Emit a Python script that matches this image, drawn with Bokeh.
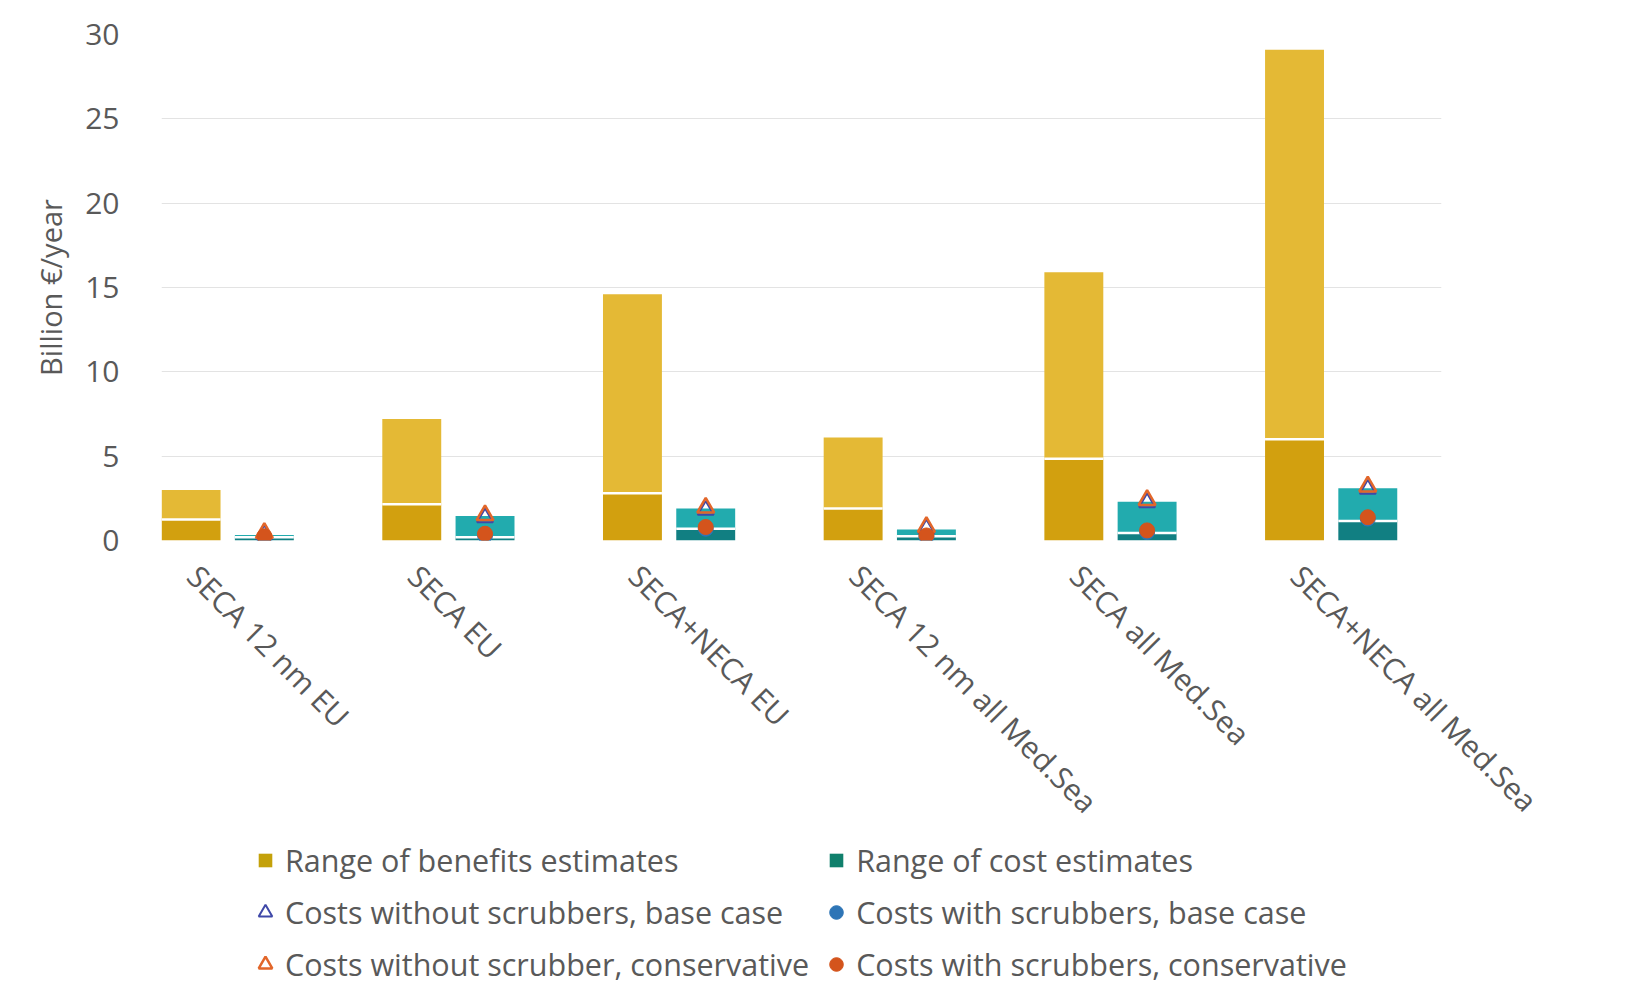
import numpy as np
from bokeh.plotting import figure
from bokeh.layouts import column
from bokeh.models import (ColumnDataSource, FixedTicker, Legend, LegendItem,
                          Range1d)
from bokeh.embed import file_html
from bokeh.resources import INLINE

# Scenarios along the x axis
categories = ["SECA 12 nm EU", "SECA EU", "SECA+NECA EU",
              "SECA 12 nm all Med.Sea", "SECA all Med.Sea",
              "SECA+NECA all Med.Sea"]

# Benefit range (billion EUR / year)
benefit_low = [1.25, 2.15, 2.8, 1.9, 4.85, 6.0]
benefit_high = [3.0, 7.2, 14.6, 6.1, 15.9, 29.1]

# Cost range (billion EUR / year)
cost_low = [0.2, 0.2, 0.7, 0.25, 0.45, 1.15]
cost_high = [0.32, 1.45, 1.9, 0.65, 2.3, 3.1]

# Point estimates of costs
cost_noscrub_base = [0.35, 1.35, 1.8, 0.7, 2.25, 3.05]
cost_scrub_base = [0.2, 0.3, 0.7, 0.22, 0.5, 1.3]
cost_noscrub_cons = [0.45, 1.5, 1.95, 0.8, 2.4, 3.2]
cost_scrub_cons = [0.25, 0.4, 0.8, 0.3, 0.6, 1.38]

yticks = [0, 5, 10, 15, 20, 25, 30]

legend_labels = ["Range of benefits estimates", "Range of cost estimates",
                 "Costs without scrubbers, base case",
                 "Costs with scrubbers, base case",
                 "Costs without scrubber, conservative",
                 "Costs with scrubbers, conservative"]

FONT = "Open Sans"
GREY = "#595959"
BAR_W = 0.267
OFFSET = 0.166
LABEL_SHIFT = 0.15625   # category labels hang from just left of the group centre

# Marker styles shared by the chart and its legend
STYLE_BEN = dict(marker="square", fill_color="#C4A10A", line_color=None)
STYLE_COST = dict(marker="square", fill_color="#10806C", line_color=None)
STYLE_NSB = dict(marker="triangle", fill_alpha=0,
                 line_color="#3F48A8", line_width=2)
STYLE_SB = dict(marker="circle", fill_color="#2E75B6", line_color="#2E75B6")
STYLE_NSC = dict(marker="triangle", fill_alpha=0, line_color="#E2662A",
                 line_width=2.5)
STYLE_SC = dict(marker="circle", fill_color="#D4541C", line_color="#D4541C")

x = np.arange(len(categories), dtype=float)
xb = x - OFFSET
xc = x + OFFSET

src = ColumnDataSource(dict(
    xb=xb, xc=xc,
    b_lo=benefit_low, b_hi=benefit_high,
    c_lo=cost_low, c_hi=cost_high,
    b_l0=xb - BAR_W / 2, b_l1=xb + BAR_W / 2,
    c_l0=xc - BAR_W / 2, c_l1=xc + BAR_W / 2,
    nsb=cost_noscrub_base, sb=cost_scrub_base,
    nsc=cost_noscrub_cons, sc=cost_scrub_cons,
))

p = figure(width=1626, height=839, output_backend="svg", toolbar_location=None,
           x_range=Range1d(-0.3, 5.5), y_range=Range1d(0, 30),
           min_border_left=161, min_border_right=185,
           min_border_top=34, min_border_bottom=290)
p.outline_line_color = None
p.background_fill_color = "white"
p.border_fill_color = "white"

# Benefit bars: lower part up to the low estimate, upper part to the high one
p.vbar(x="xb", bottom=0, top="b_lo", width=BAR_W, source=src,
       fill_color="#D2A00F", line_color=None)
p.vbar(x="xb", bottom="b_lo", top="b_hi", width=BAR_W, source=src,
       fill_color="#E4B935", line_color=None)
p.segment(x0="b_l0", x1="b_l1", y0="b_lo", y1="b_lo", source=src,
          line_color="white", line_width=2.5)

# Cost bars
p.vbar(x="xc", bottom=0, top="c_lo", width=BAR_W, source=src,
       fill_color="#117F82", line_color=None)
p.vbar(x="xc", bottom="c_lo", top="c_hi", width=BAR_W, source=src,
       fill_color="#22ABAE", line_color=None)
p.segment(x0="c_l0", x1="c_l1", y0="c_lo", y1="c_lo", source=src,
          line_color="white", line_width=2.5)

# Point estimates (conservative case drawn on top of the base case)
p.scatter(x="xc", y="nsb", source=src, size=16, **STYLE_NSB)
p.scatter(x="xc", y="sb", source=src, size=15, **STYLE_SB)
p.scatter(x="xc", y="nsc", source=src, size=17, **STYLE_NSC)
p.scatter(x="xc", y="sc", source=src, size=15, **STYLE_SC)

# Axes
p.yaxis.ticker = FixedTicker(ticks=yticks)
p.yaxis.axis_label = "Billion €/year"
p.yaxis.axis_label_text_font = FONT
p.yaxis.axis_label_text_font_size = "29px"
p.yaxis.axis_label_text_font_style = "normal"
p.yaxis.axis_label_text_color = GREY
p.yaxis.axis_label_standoff = 12
p.yaxis.major_label_text_font = FONT
p.yaxis.major_label_text_font_size = "30px"
p.yaxis.major_label_text_color = GREY
p.yaxis.major_label_standoff = 36
p.yaxis.axis_line_color = None
p.yaxis.major_tick_line_color = None
p.yaxis.minor_tick_line_color = None

label_ticks = list(x - LABEL_SHIFT)
p.xaxis.ticker = FixedTicker(ticks=label_ticks)
p.xaxis.major_label_overrides = {float(t): c for t, c in zip(label_ticks, categories)}
p.xaxis.major_label_orientation = -np.pi / 4
p.xaxis.major_label_text_font = FONT
p.xaxis.major_label_text_font_size = "30px"
p.xaxis.major_label_text_color = GREY
p.xaxis.major_label_standoff = 24
p.xaxis.axis_line_color = None
p.xaxis.major_tick_line_color = None
p.xaxis.minor_tick_line_color = None

p.xgrid.grid_line_color = None
p.ygrid.grid_line_color = "#E3E3E3"
p.ygrid.grid_line_width = 1.2

# Legend strip underneath the chart
lg = figure(width=1626, height=146, output_backend="svg", toolbar_location=None,
            x_range=Range1d(0, 1), y_range=Range1d(0, 1),
            min_border=0, x_axis_type=None, y_axis_type=None)
lg.outline_line_color = None
lg.grid.visible = False
lg.border_fill_color = "white"
lg.background_fill_color = "white"

# Swatch renderers carry no drawable point; they only lend their style to the legend
nan = [np.nan]
swatches = [lg.scatter(x=nan, y=nan, size=14, **s)
            for s in (STYLE_BEN, STYLE_COST, STYLE_NSB, STYLE_SB, STYLE_NSC, STYLE_SC)]

legend = Legend(
    items=[LegendItem(label=t, renderers=[r]) for t, r in zip(legend_labels, swatches)],
    orientation="horizontal", ncols=2,
    location=(87, 0), margin=0, padding=0,
    glyph_width=34, glyph_height=34, label_height=34,
    label_standoff=3, spacing=10,
    label_text_font=FONT, label_text_font_size="30.5px",
    label_text_color=GREY,
    border_line_alpha=0, background_fill_alpha=0,
)
lg.add_layout(legend, "center")

page = column(p, lg, spacing=0)
open("out.html", "w").write(file_html(page, INLINE))
